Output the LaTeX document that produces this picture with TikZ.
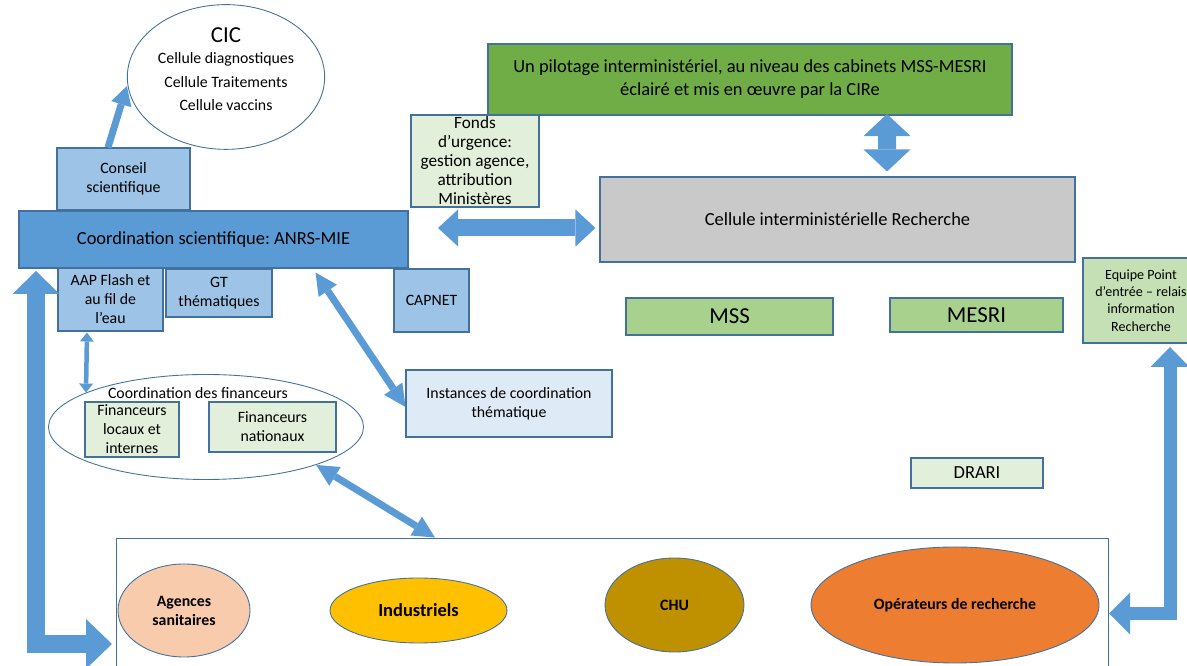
\documentclass[tikz,border=0pt]{standalone}
\usepackage{fontspec}
\setmainfont{Carlito}
\usepackage{xcolor}
\usepackage{tikz}
\usetikzlibrary{arrows.meta,shapes.geometric,positioning,calc}
\frenchspacing
\definecolor{lineblue}{HTML}{41719C}
\definecolor{arrowblue}{HTML}{5B9BD5}
\definecolor{midblue}{HTML}{9DC3E6}
\definecolor{paleblue}{HTML}{DEEBF7}
\definecolor{darkgreen}{HTML}{70AD47}
\definecolor{midgreen}{HTML}{A9D18E}
\definecolor{palegreen}{HTML}{E2EFDA}
\definecolor{softgreen}{HTML}{C5E0B4}
\definecolor{cellgrey}{HTML}{C9C9C9}
\definecolor{peach}{HTML}{F8CBAD}
\definecolor{gold}{HTML}{FFC000}
\definecolor{olivegold}{HTML}{BF9000}
\definecolor{orangeop}{HTML}{ED7D31}

\begin{document}
\begin{tikzpicture}[
  every node/.style={font=\fontsize{9}{10.8}\selectfont, align=center, inner sep=1pt},
  box/.style={rectangle, draw=lineblue, line width=0.6pt},
  oval/.style={ellipse, draw=lineblue, line width=0.5pt},
  txtbig/.style={font=\fontsize{10.5}{13}\selectfont},
  txtmin/.style={font=\fontsize{13}{15}\selectfont},
  txtbold/.style={font=\fontsize{9}{10.8}\selectfont\bfseries},
  thinarrow/.style={arrowblue, line width=0.14cm,
                    {Triangle[length=0.44cm, width=0.44cm, line width=0pt]}-{Triangle[length=0.44cm, width=0.44cm, line width=0pt]}},
  blockarrow/.style={arrowblue, line width=#1},
]
\useasboundingbox (0,0) rectangle (23.74,13.32);

%% -- Scientific side ----------------------------------------------------
\node[oval, fill=white, minimum width=3.32cm, minimum height=2.5cm] (cic) at (4.52,11.78)
  {{\fontsize{13}{15}\selectfont CIC}\\[1pt]
   Cellule diagnostiques\\[2.8pt]Cellule Traitements\\[2.8pt]Cellule vaccins\\[-2pt]};
\node[box, fill=midblue, minimum width=2.66cm, minimum height=1.24cm] (conseil) at (2.47,9.74)
  {Conseil\\scientifique};
\node[box, fill=arrowblue, txtbig, minimum width=7.78cm, minimum height=1.14cm] (coord) at (4.27,8.53)
  {Coordination scientifique: ANRS-MIE};
\node[box, fill=midblue, minimum width=2.1cm, minimum height=1.26cm] (aap) at (2.21,7.33)
  {AAP Flash et\\au fil de\\l’eau};
\node[box, fill=midblue, minimum width=2.12cm, minimum height=0.96cm] (gt) at (4.38,7.46)
  {GT\\thématiques};
\node[box, fill=midblue, minimum width=1.5cm, minimum height=1.26cm] (capnet) at (8.63,7.31)
  {CAPNET};
\node[box, fill=paleblue, minimum width=4.12cm, minimum height=1.34cm] (instances) at (10.18,5.25)
  {Instances de coordination\\thématique};

%% -- Funders ------------------------------------------------------------
\node[oval, minimum width=6.3cm, minimum height=2.1cm] (fin) at (4.12,4.78) {};
\node (finlabel) at (3.96,5.46) {Coordination des financeurs};
\node[box, fill=palegreen, minimum width=1.88cm, minimum height=1.1cm] (floc) at (2.64,4.73)
  {Financeurs\\locaux et\\internes};
\node[box, fill=palegreen, minimum width=2.54cm, minimum height=1.0cm] (fnat) at (5.45,4.78)
  {Financeurs\\nationaux};

%% -- Ministerial side ---------------------------------------------------
\node[box, fill=darkgreen, txtbig, minimum width=10.48cm, minimum height=1.42cm] (pilot) at (15.0,11.73)
  {Un pilotage interministériel, au niveau des cabinets MSS-MESRI\\éclairé et mis en œuvre par la CIRe};
\node[box, fill=palegreen, font=\fontsize{9.8}{10.8}\selectfont, minimum width=2.56cm, minimum height=1.84cm] (fonds) at (9.5,10.1)
  {Fonds\\d’urgence:\\gestion agence,\\attribution\\Ministères};
\node[box, fill=cellgrey, txtbig, minimum width=9.5cm, minimum height=1.7cm] (cir) at (16.75,8.93)
  {Cellule interministérielle Recherche};
\node[box, fill=midgreen, txtmin, minimum width=4.14cm, minimum height=0.74cm] (mss) at (14.59,6.99) {MSS};
\node[box, fill=midgreen, txtmin, minimum width=3.46cm, minimum height=0.68cm] (mesri) at (19.53,7.02) {MESRI};
\node[box, fill=softgreen, font=\fontsize{8}{9.9}\selectfont, minimum width=2.32cm, minimum height=1.7cm] (equipe) at (22.82,7.31)
  {Equipe Point\\d’entrée – relais\\information\\Recherche};
\node[box, fill=palegreen, txtbig, minimum width=2.64cm, minimum height=0.6cm] (drari) at (19.54,3.86) {DRARI};

%% -- Research actors ----------------------------------------------------
\node[box, line width=0.5pt, minimum width=19.84cm, minimum height=3.2cm] (acteurs) at (12.24,0.96) {};
\node[oval, fill=peach, txtbold, minimum width=2.64cm, minimum height=1.86cm] (agences) at (3.68,1.11)
  {Agences\\sanitaires};
\node[oval, fill=gold, font=\fontsize{10.5}{12}\selectfont\bfseries, minimum width=3.54cm, minimum height=1.3cm] (indus) at (8.37,1.11)
  {Industriels};
\node[oval, fill=olivegold, txtbold, minimum width=2.78cm, minimum height=1.88cm] (chu) at (13.49,1.22) {CHU};
\node[oval, fill=orangeop, txtbold, minimum width=5.76cm, minimum height=2.32cm] (operateurs) at (19.1,1.22)
  {Opérateurs de recherche};

%% -- Free ends of the block arrows --------------------------------------
\coordinate (leftup)    at (0.72,7.9);
\coordinate (leftend)   at (2.24,0.44);
\coordinate (rightup)   at (23.4,6.38);
\coordinate (rightend)  at (22.18,1.05);
\coordinate (fondsend)  at (8.76,8.76);

%% -- Arrows -------------------------------------------------------------
\draw[arrowblue, line width=0.14cm, -{Triangle[length=0.38cm, width=0.42cm, line width=0pt]}]
  ([xshift=-0.31cm]conseil.north) -- ([yshift=-0.18cm]cic.west);
\draw[thinarrow] ([xshift=-1.86cm, yshift=-0.08cm]coord.south east) -- ([yshift=-0.07cm]instances.west);
\draw[thinarrow] (fin.-19) -- ([xshift=-3.54cm]acteurs.north);
\draw[arrowblue, line width=0.09cm,
      {Triangle[length=0.18cm, width=0.28cm, line width=0pt]}-{Triangle[length=0.18cm, width=0.28cm, line width=0pt]}]
  ([xshift=-0.47cm, yshift=-0.02cm]aap.south) -- (fin.164);
\draw[blockarrow=0.36cm, {Triangle[length=0.44cm, width=0.94cm, line width=0pt]}-{Triangle[length=0.44cm, width=0.94cm, line width=0pt]}]
  ([xshift=2.74cm, yshift=0.03cm]pilot.south) -- ([xshift=0.99cm, yshift=0.1cm]cir.north);
\draw[blockarrow=0.34cm, {Triangle[length=0.4cm, width=0.74cm, line width=0pt]}-{Triangle[length=0.4cm, width=0.74cm, line width=0pt]}]
  (fondsend) -- ([xshift=-0.08cm, yshift=-0.17cm]cir.west);
\draw[blockarrow=0.36cm, {Triangle[length=0.46cm, width=0.94cm, line width=0pt]}-{Triangle[length=0.52cm, width=1.0cm, line width=0pt]}]
  (leftup) |- (leftend);
\draw[blockarrow=0.26cm, {Triangle[length=0.4cm, width=0.78cm, line width=0pt]}-{Triangle[length=0.42cm, width=0.84cm, line width=0pt]}]
  (rightup) |- (rightend);

\end{tikzpicture}
\end{document}
